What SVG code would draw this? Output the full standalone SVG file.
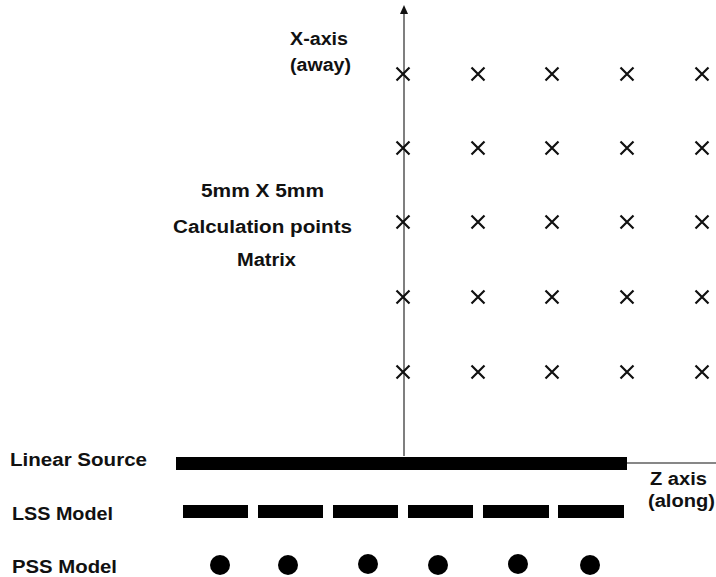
<svg xmlns="http://www.w3.org/2000/svg" width="716" height="577" viewBox="0 0 716 577">
<style>
text{font-family:"Liberation Sans",Arial,sans-serif;font-weight:bold;font-size:18px;fill:#111}
.x{stroke:#111;stroke-width:2.2;fill:none}
</style>
<defs>
<g id="xm"><path class="x" d="M-6.5,-6.5 L6.5,6.5 M6.5,-6.5 L-6.5,6.5"/></g>
</defs>
<rect width="716" height="577" fill="#fff"/>
<g id="connectors">
<line x1="404" y1="456" x2="404" y2="12" stroke="#555" stroke-width="1.5"/>
<path d="M404,5 L408,14 L400,14 Z" fill="#111"/>
<line x1="627" y1="463" x2="716" y2="463" stroke="#111" stroke-width="1.2"/>
</g>
<g id="labels">
<text x="290" y="45" textLength="58" lengthAdjust="spacingAndGlyphs">X-axis</text>
<text x="290" y="71" textLength="61" lengthAdjust="spacingAndGlyphs">(away)</text>
<text x="201" y="197" textLength="123" lengthAdjust="spacingAndGlyphs">5mm X 5mm</text>
<text x="173" y="233" textLength="179" lengthAdjust="spacingAndGlyphs">Calculation points</text>
<text x="237" y="266" textLength="59" lengthAdjust="spacingAndGlyphs">Matrix</text>
<text x="650" y="485" textLength="57" lengthAdjust="spacingAndGlyphs">Z axis</text>
<text x="648" y="507" textLength="67" lengthAdjust="spacingAndGlyphs">(along)</text>
</g>
<g id="matrix">
<use href="#xm" x="403" y="74"/><use href="#xm" x="478" y="74"/><use href="#xm" x="552" y="74"/><use href="#xm" x="627" y="74"/><use href="#xm" x="702" y="74"/>
<use href="#xm" x="403" y="148"/><use href="#xm" x="478" y="148"/><use href="#xm" x="552" y="148"/><use href="#xm" x="627" y="148"/><use href="#xm" x="702" y="148"/>
<use href="#xm" x="403" y="222"/><use href="#xm" x="478" y="222"/><use href="#xm" x="552" y="222"/><use href="#xm" x="627" y="222"/><use href="#xm" x="702" y="222"/>
<use href="#xm" x="403" y="297"/><use href="#xm" x="478" y="297"/><use href="#xm" x="552" y="297"/><use href="#xm" x="627" y="297"/><use href="#xm" x="702" y="297"/>
<use href="#xm" x="403" y="372"/><use href="#xm" x="478" y="372"/><use href="#xm" x="552" y="372"/><use href="#xm" x="627" y="372"/><use href="#xm" x="702" y="372"/>
</g>
<g id="linear-source">
<text x="10" y="466" textLength="137" lengthAdjust="spacingAndGlyphs">Linear Source</text>
<rect x="176" y="457" width="451" height="13" fill="#000"/>
</g>
<g id="lss-model">
<text x="12" y="520" textLength="101" lengthAdjust="spacingAndGlyphs">LSS Model</text>
<rect x="183" y="505" width="65" height="13" fill="#000"/>
<rect x="258" y="505" width="65" height="13" fill="#000"/>
<rect x="333" y="505" width="65" height="13" fill="#000"/>
<rect x="408" y="505" width="65" height="13" fill="#000"/>
<rect x="483" y="505" width="66" height="13" fill="#000"/>
<rect x="558" y="505" width="66" height="13" fill="#000"/>
</g>
<g id="pss-model">
<text x="12" y="573" textLength="105" lengthAdjust="spacingAndGlyphs">PSS Model</text>
<circle cx="220" cy="565" r="10" fill="#000"/>
<circle cx="288" cy="565" r="10" fill="#000"/>
<circle cx="368" cy="564" r="10" fill="#000"/>
<circle cx="438" cy="565" r="10" fill="#000"/>
<circle cx="518" cy="564" r="10" fill="#000"/>
<circle cx="590" cy="565" r="10" fill="#000"/>
</g>
</svg>
